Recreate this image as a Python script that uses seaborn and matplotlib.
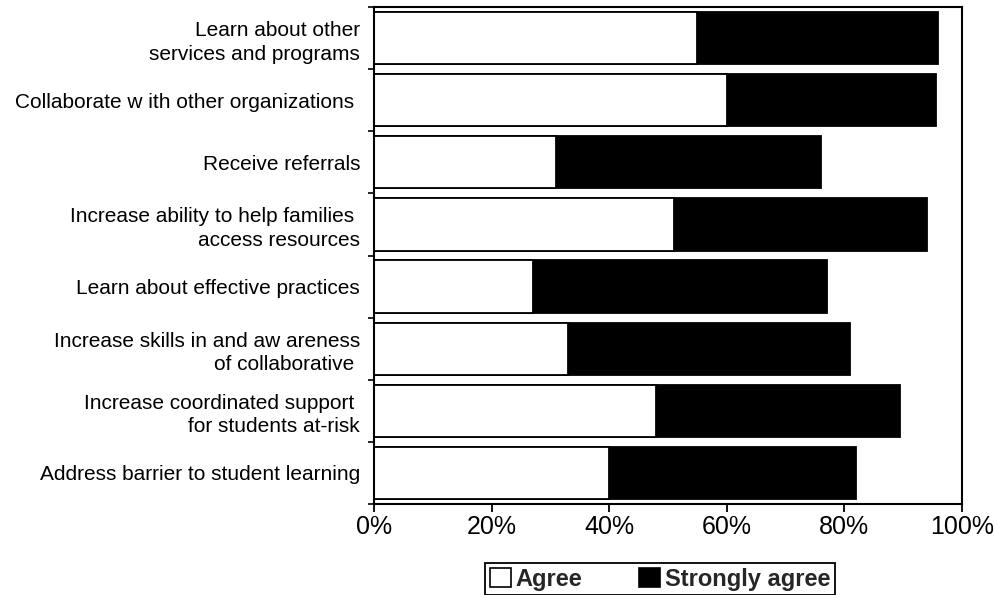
import matplotlib
matplotlib.use("Agg")
import matplotlib.pyplot as plt
from matplotlib.patches import Patch
from matplotlib.ticker import FixedLocator
import seaborn as sns
import pandas as pd

categories = [
    "Learn about other\nservices and programs",
    "Collaborate w ith other organizations ",
    "Receive referrals",
    "Increase ability to help families \naccess resources",
    "Learn about effective practices",
    "Increase skills in and aw areness\nof collaborative ",
    "Increase coordinated support \nfor students at-risk",
    "Address barrier to student learning",
]
agree = [55, 60, 31, 51, 27, 33, 48, 40]
strongly_agree = [41, 35.5, 45, 43, 50, 48, 41.5, 42]
x_ticks = [0, 20, 40, 60, 80, 100]
x_tick_labels = ["0%", "20%", "40%", "60%", "80%", "100%"]
series_names = ["Agree", "Strongly agree"]

sns.set_theme(style="white")
plt.rcParams["font.family"] = ["Liberation Sans", "DejaVu Sans"]

df = pd.DataFrame({
    "category": categories,
    "agree": agree,
    "total": [a + s for a, s in zip(agree, strongly_agree)],
})

W, H = 995, 595
fig = plt.figure(figsize=(W / 100, H / 100), dpi=100)
ax = fig.add_axes([374 / W, 1 - 504 / H, (962 - 374) / W, (504 - 7) / H])

# stacked bars: full total in black, agree share in white on top
sns.barplot(data=df, x="total", y="category", orient="y", color="black",
            edgecolor="black", linewidth=1.3, width=0.84, saturation=1,
            errorbar=None, ax=ax)
sns.barplot(data=df, x="agree", y="category", orient="y", color="white",
            edgecolor="black", linewidth=1.3, width=0.84, saturation=1,
            errorbar=None, ax=ax)

ax.set_xlim(0, 100)
ax.set_ylim(7.5, -0.5)
ax.set_xlabel("")
ax.set_ylabel("")
ax.set_xticks(x_ticks)
ax.set_xticklabels(x_tick_labels, fontsize=18)
ax.tick_params(axis="x", direction="out", length=6, width=1.3, color="black",
               pad=2, bottom=True)
ax.tick_params(axis="y", which="major", length=0, pad=10, labelsize=15)
ax.yaxis.set_minor_locator(FixedLocator([i + 0.5 for i in range(-1, 8)]))
ax.tick_params(axis="y", which="minor", direction="out", length=4,
               width=1.2, color="black", left=True)
for lbl in ax.get_yticklabels():
    lbl.set_horizontalalignment("right")
    lbl.set_multialignment("right")
    lbl.set_linespacing(1.3)
    lbl.set_color("black")
for lbl in ax.get_xticklabels():
    lbl.set_color("black")

for sp in ax.spines.values():
    sp.set_visible(True)
    sp.set_color("black")
    sp.set_linewidth(1.5)

handles = [
    Patch(facecolor="white", edgecolor="black", linewidth=1.2, label=series_names[0]),
    Patch(facecolor="black", edgecolor="black", linewidth=1.2, label=series_names[1]),
]
leg = fig.legend(handles=handles, loc="upper center",
                 bbox_to_anchor=(660 / W, 1 - 563 / H), ncol=2,
                 frameon=True, fancybox=False, framealpha=1,
                 edgecolor="black", handlelength=0.9, handleheight=0.9,
                 handletextpad=0.2, columnspacing=2.4, borderpad=0.2,
                 borderaxespad=0,
                 prop={"weight": "bold", "size": 17})
leg.get_frame().set_linewidth(1.3)

fig.savefig("out.png", dpi=100, facecolor="white")
